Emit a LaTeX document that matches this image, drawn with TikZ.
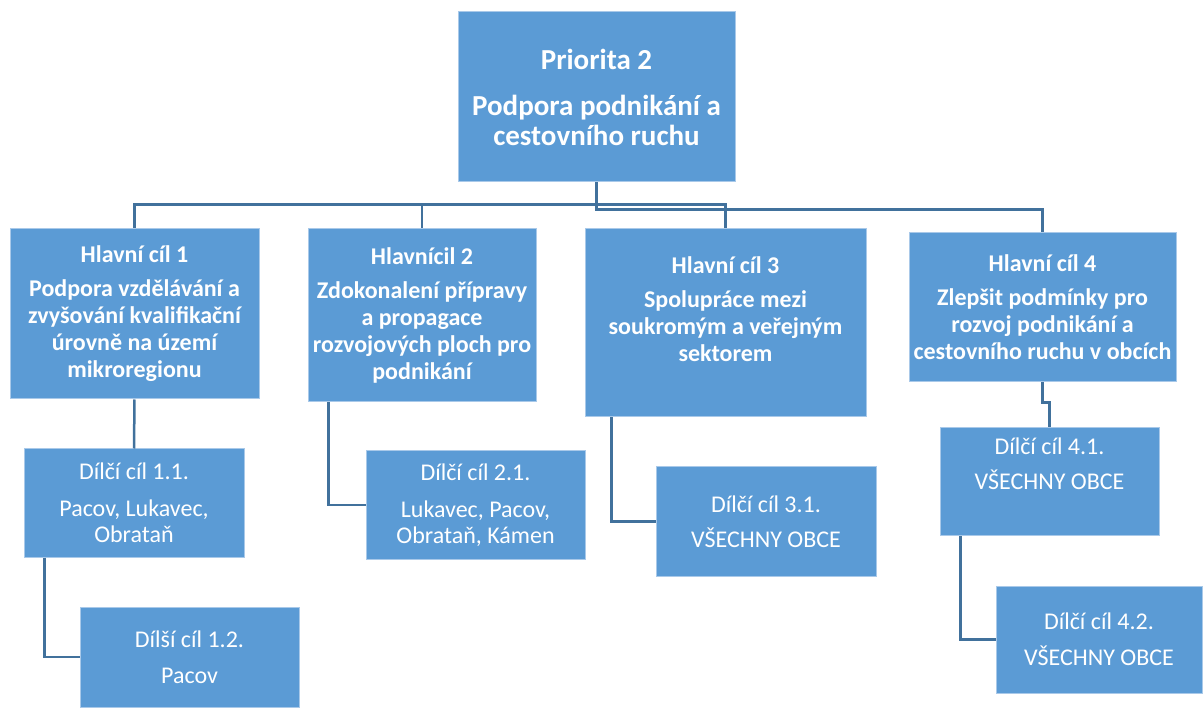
\documentclass[tikz,border=0pt]{standalone}
\usepackage{fontspec}
\setmainfont{Carlito}
\usetikzlibrary{calc}
\definecolor{boxblue}{HTML}{5B9BD5}
\definecolor{boxedge}{HTML}{A9C9E9}
\definecolor{linkblue}{HTML}{41719C}
\begin{document}
\begin{tikzpicture}[x=1pt,y=-1pt,
  box/.style={rectangle, fill=boxblue, draw=boxedge, line width=1pt, text=white, align=center, inner sep=0pt},
  hbox/.style={box, font=\bfseries\fontsize{24}{27}\selectfont},
  dbox/.style={box, font=\fontsize{24}{26}\selectfont},
  topbox/.style={box, font=\bfseries\fontsize{29}{30}\selectfont},
  conn/.style={draw=linkblue, line width=2.5pt}]
\useasboundingbox (0,0) rectangle (1203,708);
\node[topbox, minimum width=277pt, minimum height=170pt] (top) at (596.5,97) {Priorita 2\\[16pt]Podpora podnikání a\\cestovního ruchu};
\node[hbox, minimum width=249pt, minimum height=170pt] (h1) at (134.5,314) {Hlavní cíl 1\\[7pt]Podpora vzdělávání a\\zvyšování kvalifikační\\úrovně na území\\mikroregionu};
\node[hbox, minimum width=228pt, minimum height=173pt] (h2) at (422,315.5) {Hlavnícil 2\\[7pt]Zdokonalení přípravy\\a propagace\\rozvojových ploch pro\\podnikání};
\node[hbox, minimum width=281pt, minimum height=188pt] (h3) at (725.5,323) {Hlavní cíl 3\\[7pt]Spolupráce mezi\\soukromým a veřejným\\sektorem\\\mbox{}};
\node[hbox, minimum width=267pt, minimum height=149pt] (h4) at (1042.5,307.5) {Hlavní cíl 4\\[7pt]Zlepšit podmínky pro\\rozvoj podnikání a\\cestovního ruchu v obcích};
\node[dbox, minimum width=220pt, minimum height=108pt] (d11) at (134,503) {Dílčí cíl 1.1.\\[11pt]Pacov, Lukavec,\\Obrataň};
\node[dbox, minimum width=219pt, minimum height=100pt] (d12) at (189.5,657) {Dílší cíl 1.2.\\[10pt]Pacov};
\node[dbox, minimum width=219pt, minimum height=108pt] (d21) at (475.5,505) {Dílčí cíl 2.1.\\[11pt]Lukavec, Pacov,\\Obrataň, Kámen};
\node[dbox, minimum width=220pt, minimum height=109pt] (d31) at (766,521.5) {Dílčí cíl 3.1.\\[9pt]VŠECHNY OBCE};
\node[dbox, minimum width=219pt, minimum height=108pt] (d41) at (1049.5,482) {Dílčí cíl 4.1.\\[9pt]VŠECHNY OBCE\\[10pt]\mbox{}};
\node[dbox, minimum width=206pt, minimum height=107pt] (d42) at (1099,639.5) {Dílčí cíl 4.2.\\[10pt]VŠECHNY OBCE};
% connectors
\draw[conn] (top.south) -- ++(0,22) -| (h1.north);
\draw[conn] (top.south) -- ++(0,22) -| (h2.north);
\draw[conn] (top.south) -- ++(0,22) -| (h3.north);
\draw[conn] (top.south) -- ++(0,27) -| (h4.north);
\draw[conn] (h1.south) -- (d11.north);
\draw[conn] ($(h2.south west)+(21,0)$) |- (d21.west);
\draw[conn] ($(h3.south west)+(27,0)$) |- (d31.west);
\draw[conn] ($(d11.south west)+(21,0)$) |- (d12.west);
\draw[conn] (h4.south) -- ++(0,20) -| (d41.north);
\draw[conn] ($(d41.south west)+(21,0)$) |- (d42.west);
\end{tikzpicture}
\end{document}
